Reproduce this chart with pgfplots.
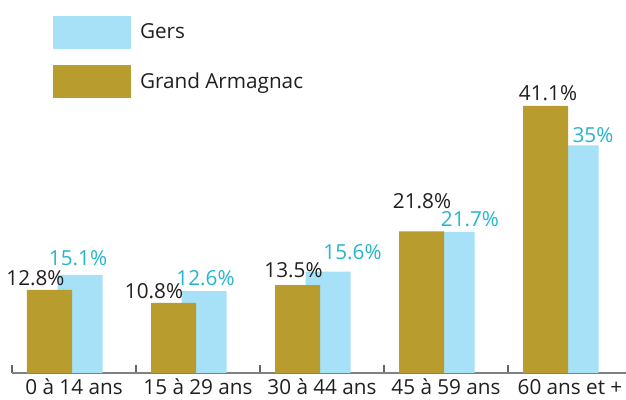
\documentclass[border=0pt]{standalone}
\usepackage{pgfplots}
\pgfplotsset{compat=1.18}
\usepackage{pgfplotstable}
\usepackage{fontspec}
\setmainfont{Open Sans}
\definecolor{gold}{HTML}{B99C2E}
\definecolor{gersblue}{HTML}{A6E1F8}
\definecolor{labcyan}{HTML}{27B5CB}
\definecolor{txt}{HTML}{231F20}
\definecolor{axgray}{HTML}{808080}

% bar values
\pgfplotstableread{
x y
0 12.8
1 10.8
2 13.5
3 21.8
4 41.1
}\ga
\pgfplotstableread{
x y
0 15.1
1 12.6
2 15.6
3 21.7
4 35
}\gers
% value label positions (lx, ly) and text
\pgfplotstableread{
lx ly lab
-0.3105 13.385 12.8
0.6452 11.385 10.8
1.7702 14.769 13.5
2.8065 25.231 21.8
3.8226 41.846 41.1
}\galab
\pgfplotstableread{
lx ly lab
0.0323 16.615 15.1
1.0605 13.385 12.6
2.2460 17.385 15.6
3.1935 22.462 21.7
4.1855 35.538 35
}\gerslab

\newcommand{\chartfont}{\fontsize{20.7bp}{24bp}\selectfont}

\begin{document}
\begin{tikzpicture}
\useasboundingbox (-12bp,-27bp) rectangle (614bp,373bp);
\begin{axis}[
 at={(0,0)}, anchor=south west,
 x=124bp, y=6.5bp,
 xmin=-0.5, xmax=4.4516, ymin=0, ymax=57.3846,
 axis x line=bottom, axis y line=none,
 x axis line style={-, draw=axgray, line width=1.5bp},
 tick align=inside,
 xtick={0,...,4},
 xticklabels={0 à 14 ans, 15 à 29 ans, 30 à 44 ans, 45 à 59 ans, 60 ans et +},
 major tick length=0pt,
 minor xtick={-0.5,0.5,1.5,2.5,3.5},
 minor tick length=8bp,
 minor tick style={draw=axgray!80!black, line width=1.5bp},
 xticklabel style={anchor=base, yshift=-22bp, inner sep=0pt, text=txt, font=\chartfont},
 clip=false,
 legend style={at={(0.0668,0.9571)}, anchor=north west, draw=none, fill=none,
   inner sep=0pt, outer sep=0pt, row sep=16bp, column sep=9bp,
   font=\chartfont, text=txt, nodes={inner sep=0pt}},
 legend cell align=left,
]
\addplot[ybar, bar width=45bp, bar shift=6bp, fill=gersblue, draw=none,
 legend image code/.code={\fill[gersblue] (0bp,-17bp) rectangle (78bp,16bp);},
] table[x=x,y=y]{\gers};
\addlegendentry{Gers}
\addplot[ybar, bar width=45bp, bar shift=-24.5bp, fill=gold, draw=none,
 legend image code/.code={\fill[gold] (0bp,-17bp) rectangle (78bp,16bp);},
] table[x=x,y=y]{\ga};
\addlegendentry{Grand Armagnac}
\addplot[draw=none, mark=none, forget plot,
 point meta=explicit symbolic,
 nodes near coords={\pgfplotspointmeta\%},
 every node near coord/.append style={anchor=base, inner sep=0pt, text=labcyan, font=\chartfont},
] table[x=lx,y=ly,meta=lab]{\gerslab};
\addplot[draw=none, mark=none, forget plot,
 point meta=explicit symbolic,
 nodes near coords={\pgfplotspointmeta\%},
 every node near coord/.append style={anchor=base, inner sep=0pt, text=txt, font=\chartfont},
] table[x=lx,y=ly,meta=lab]{\galab};
\end{axis}
\end{tikzpicture}
\end{document}
